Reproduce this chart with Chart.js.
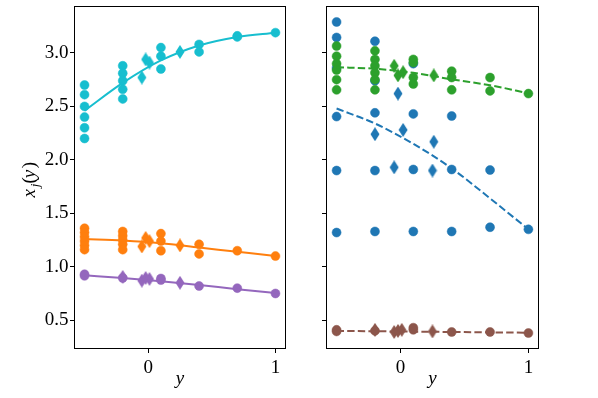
<!DOCTYPE html>
<html>
<head>
<meta charset="utf-8">
<script src="https://cdn.jsdelivr.net/npm/chart.js@4.4.0/dist/chart.umd.min.js"></script>
<style>
  html, body { margin:0; padding:0; background:#fff; }
  #wrap { position:relative; width:598px; height:398px; }
  canvas { position:absolute; top:0; }
  #left { left:0; width:300px; height:398px; }
  #right { left:300px; width:298px; height:398px; }
</style>
</head>
<body>
<div id="wrap">
  <canvas id="left" width="300" height="398"></canvas>
  <canvas id="right" width="298" height="398"></canvas>
</div>
<script>
// x positions of the fitted curves
const fitX = [-0.5, -0.2, 0.1, 0.4, 0.7, 1.0];
const xTicks = [0, 1];
const yTicks = [0.5, 1.0, 1.5, 2.0, 2.5, 3.0];

// left panel - cyan
const cyanDotX = [-0.5,-0.5,-0.5,-0.5,-0.5,-0.5, -0.2,-0.2,-0.2,-0.2,-0.2, 0.1,0.1,0.1, 0.4,0.4, 0.7,0.7, 1.0];
const cyanDotY = [2.70,2.61,2.50,2.40,2.30,2.20, 2.88,2.81,2.74,2.66,2.57, 3.05,2.97,2.85, 3.08,3.01, 3.16,3.15, 3.19];
const cyanDiaX = [-0.05, -0.02, 0.01, 0.25];
const cyanDiaY = [2.77, 2.94, 2.91, 3.01];
const cyanFit = [2.46, 2.72, 2.93, 3.07, 3.15, 3.19];

// left panel - orange
const orangeDotX = [-0.5,-0.5,-0.5,-0.5,-0.5,-0.5, -0.2,-0.2,-0.2,-0.2,-0.2, 0.1,0.1,0.1, 0.4,0.4, 0.7, 1.0];
const orangeDotY = [1.36,1.32,1.28,1.24,1.20,1.16, 1.33,1.29,1.25,1.21,1.16, 1.31,1.24,1.15, 1.21,1.12, 1.15, 1.10];
const orangeDiaX = [-0.05, -0.02, 0.01, 0.25];
const orangeDiaY = [1.19, 1.27, 1.24, 1.20];
const orangeFit = [1.26, 1.245, 1.22, 1.18, 1.14, 1.10];

// left panel - purple
const purpleDotX = [-0.5, -0.5, -0.2, 0.1, 0.1, 0.4, 0.7, 1.0];
const purpleDotY = [0.93, 0.915, 0.895, 0.89, 0.875, 0.82, 0.80, 0.75];
const purpleDiaX = [-0.2, -0.05, -0.02, 0.01, 0.25];
const purpleDiaY = [0.905, 0.87, 0.895, 0.886, 0.85];
const purpleFit = [0.92, 0.895, 0.865, 0.83, 0.79, 0.755];

// right panel - blue
const blueDotX = [-0.5,-0.5,-0.5,-0.5,-0.5,-0.5, -0.2,-0.2,-0.2,-0.2,-0.2, 0.1,0.1,0.1,0.1, 0.4,0.4,0.4, 0.7,0.7, 1.0];
const blueDotY = [3.29,3.145,2.86,2.405,1.90,1.32, 3.11,2.74,2.44,1.90,1.33, 2.90,2.43,1.91,1.33, 2.41,1.91,1.33, 1.905,1.37, 1.35];
const blueDiaX = [-0.2, -0.05, -0.02, 0.02, 0.26, 0.25];
const blueDiaY = [2.24, 1.93, 2.62, 2.28, 2.17, 1.90];
const blueFit = [2.48, 2.34, 2.15, 1.92, 1.64, 1.35];

// right panel - green
const greenDotX = [-0.5,-0.5,-0.5,-0.5,-0.5,-0.5, -0.2,-0.2,-0.2,-0.2,-0.2,-0.2, 0.1,0.1,0.1,0.1, 0.4,0.4,0.4, 0.7,0.7, 1.0];
const greenDotY = [3.065,2.97,2.90,2.84,2.75,2.655, 3.02,2.94,2.88,2.815,2.75,2.655, 2.94,2.91,2.77,2.71, 2.83,2.77,2.655, 2.77,2.645, 2.62];
const greenDiaX = [-0.05, -0.02, 0.02, 0.26];
const greenDiaY = [2.88, 2.79, 2.82, 2.79];
const greenFit = [2.867, 2.852, 2.815, 2.753, 2.698, 2.623];

// right panel - brown
const brownDotX = [-0.5, -0.5, -0.2, 0.1, 0.1, 0.4, 0.7, 1.0];
const brownDotY = [0.41, 0.395, 0.40, 0.43, 0.41, 0.39, 0.39, 0.38];
const brownDiaX = [-0.2, -0.05, -0.02, 0.01, 0.25];
const brownDiaY = [0.41, 0.39, 0.40, 0.41, 0.395];
const brownFit = [0.40, 0.397, 0.393, 0.39, 0.386, 0.383];

const FONT = 'Liberation Serif';

function pts(xs, ys){ return xs.map((x, i) => ({x: x, y: ys[i]})); }

// matplotlib-like thin diamond marker
function thinDiamond(color){
  const c = document.createElement('canvas');
  c.width = 10; c.height = 14;
  const g = c.getContext('2d');
  g.fillStyle = color;
  g.beginPath();
  g.moveTo(5, 0); g.lineTo(9.5, 7); g.lineTo(5, 14); g.lineTo(0.5, 7);
  g.closePath(); g.fill();
  return c;
}

function series(dotX, dotY, diaX, diaY, fit, color, dashed){
  return [
    {data: pts(fitX, fit), showLine: true, borderColor: color, borderWidth: 2,
     borderDash: dashed ? [7.4, 3.2] : [], pointRadius: 0, cubicInterpolationMode: 'monotone'},
    {data: pts(diaX, diaY), pointStyle: thinDiamond(color), pointRadius: 6},
    {data: pts(dotX, dotY), backgroundColor: color, borderColor: color, borderWidth: 0.5, pointRadius: 4.5}
  ];
}

// x_j(y), drawn piece by piece so the j sits as a subscript
function drawYLabel(ctx){
  ctx.save();
  ctx.translate(35, 176);
  ctx.rotate(-Math.PI / 2);
  ctx.fillStyle = '#000';
  ctx.textBaseline = 'alphabetic';
  const parts = [
    ['x', 'italic 19px "' + FONT + '"', 0, 0],
    ['j', 'italic 13px "' + FONT + '"', 4, -0.5],
    ['(', '19px "' + FONT + '"', 0, 1.5],
    ['y', 'italic 19px "' + FONT + '"', 0, 0],
    [')', '19px "' + FONT + '"', 0, 0.5]
  ];
  let total = 0;
  parts.forEach(p => { ctx.font = p[1]; total += ctx.measureText(p[0]).width + p[3]; });
  let x = -total / 2;
  parts.forEach(p => {
    ctx.font = p[1];
    ctx.fillText(p[0], x + p[3], p[2]);
    x += ctx.measureText(p[0]).width + p[3];
  });
  ctx.restore();
}

const framePlugin = {
  id: 'frame',
  afterDraw(chart, args, opts){
    const {ctx, chartArea: a} = chart;
    ctx.save();
    ctx.strokeStyle = '#000';
    ctx.lineWidth = 1;
    ctx.strokeRect(a.left - 0.5, a.top - 0.5, a.right - a.left + 1, a.bottom - a.top + 1);
    ctx.fillStyle = '#000';
    ctx.font = 'italic 19px "' + FONT + '"';
    ctx.textAlign = 'center';
    ctx.textBaseline = 'alphabetic';
    ctx.fillText('y', (a.left + a.right) / 2, 384);
    if (opts.ylabel) drawYLabel(ctx);
    ctx.restore();
  }
};

function noPad(s){ s.paddingTop = 0; s.paddingBottom = 0; s.paddingLeft = 0; s.paddingRight = 0; }

function makeChart(id, datasets, yAxisWidth, padRight, showYLabels){
  return new Chart(document.getElementById(id), {
    type: 'scatter',
    data: {datasets: datasets},
    plugins: [framePlugin],
    options: {
      responsive: false,
      animation: false,
      events: [],
      layout: {padding: {left: 0, right: padRight, top: 3, bottom: 0}},
      plugins: {legend: {display: false}, tooltip: {enabled: false}, frame: {ylabel: showYLabels}},
      scales: {
        x: {
          type: 'linear', min: -0.575, max: 1.075,
          afterBuildTicks: s => { s.ticks = xTicks.map(v => ({value: v})); },
          afterFit: s => { s.height = 50; noPad(s); },
          ticks: {color: '#000', padding: 4, font: {family: FONT, size: 19}, callback: v => String(v)},
          grid: {drawOnChartArea: false, drawTicks: true, tickLength: 5, color: '#000'},
          border: {display: false}
        },
        y: {
          type: 'linear', min: 0.24, max: 3.43,
          afterBuildTicks: s => { s.ticks = yTicks.map(v => ({value: v})); },
          afterFit: s => { s.width = yAxisWidth; noPad(s); },
          ticks: {color: '#000', padding: 1.5, font: {family: FONT, size: 19},
                  callback: v => showYLabels ? Number(v).toFixed(1) : ''},
          grid: {drawOnChartArea: false, drawTicks: true, tickLength: 5, color: '#000'},
          border: {display: false}
        }
      }
    }
  });
}

const leftSets = [].concat(
  series(cyanDotX, cyanDotY, cyanDiaX, cyanDiaY, cyanFit, '#17becf', false),
  series(orangeDotX, orangeDotY, orangeDiaX, orangeDiaY, orangeFit, '#ff7f0e', false),
  series(purpleDotX, purpleDotY, purpleDiaX, purpleDiaY, purpleFit, '#9467bd', false)
);
const rightSets = [].concat(
  series(greenDotX, greenDotY, greenDiaX, greenDiaY, greenFit, '#2ca02c', true),
  series(blueDotX, blueDotY, blueDiaX, blueDiaY, blueFit, '#1f77b4', true),
  series(brownDotX, brownDotY, brownDiaX, brownDiaY, brownFit, '#8c564b', true)
);

makeChart('left', leftSets, 75, 15, true);
makeChart('right', rightSets, 27, 60, false);
</script>
</body>
</html>
